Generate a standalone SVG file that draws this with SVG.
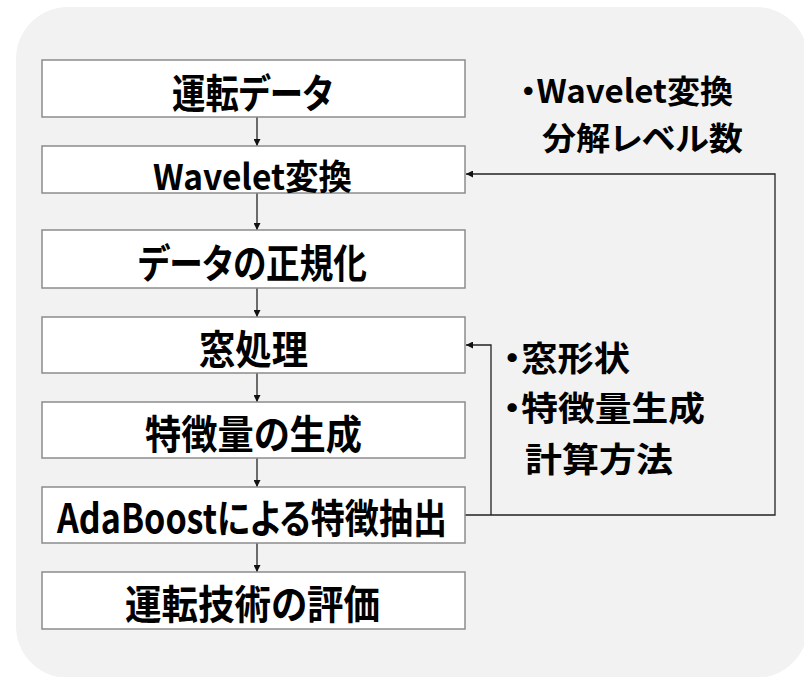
<svg xmlns="http://www.w3.org/2000/svg" width="804" height="677" viewBox="0 0 804 677">
<style>
.bg{fill:#f2f2f2}
.box{fill:#ffffff;stroke:#8c8c8c;stroke-width:1.5}
.t{font-family:"Noto Sans CJK JP","Liberation Sans",sans-serif;font-weight:bold;fill:#000;font-feature-settings:"palt"}
.c{fill:none;stroke:#222;stroke-width:1.3}
</style>
<defs>
<marker id="ah" viewBox="0 0 10 10" refX="10" refY="5" markerWidth="7" markerHeight="7" markerUnits="userSpaceOnUse" orient="auto">
<path d="M0,0 L10,5 L0,10 z" fill="#111"/>
</marker>
</defs>
<rect class="bg" x="16" y="7" width="792" height="671" rx="52" ry="52"/>
<g id="connectors">
<line class="c" x1="257" y1="117" x2="257" y2="146" marker-end="url(#ah)"/>
<line class="c" x1="257" y1="193" x2="257" y2="230" marker-end="url(#ah)"/>
<line class="c" x1="257" y1="288" x2="257" y2="317" marker-end="url(#ah)"/>
<line class="c" x1="257" y1="373" x2="257" y2="402" marker-end="url(#ah)"/>
<line class="c" x1="257" y1="458" x2="257" y2="487" marker-end="url(#ah)"/>
<line class="c" x1="257" y1="543" x2="257" y2="572" marker-end="url(#ah)"/>
<polyline class="c" points="465,515 775,515 775,174 466,174" marker-end="url(#ah)"/>
<polyline class="c" points="491,515 491,345 466,345" marker-end="url(#ah)"/>
</g>
<g id="n1"><rect class="box" x="42" y="60" width="423" height="57"/><text class="t" x="172" y="108" font-size="40" textLength="161" lengthAdjust="spacingAndGlyphs">運転データ</text></g>
<g id="n2"><rect class="box" x="42" y="146" width="423" height="47"/><text class="t" x="153" y="190" font-size="35" textLength="199" lengthAdjust="spacingAndGlyphs">Wavelet変換</text></g>
<g id="n3"><rect class="box" x="42" y="230" width="423" height="58"/><text class="t" x="138" y="278" font-size="40" textLength="229" lengthAdjust="spacingAndGlyphs">データの正規化</text></g>
<g id="n4"><rect class="box" x="42" y="317" width="423" height="56"/><text class="t" x="199" y="364" font-size="40" textLength="109" lengthAdjust="spacingAndGlyphs">窓処理</text></g>
<g id="n5"><rect class="box" x="42" y="402" width="423" height="56"/><text class="t" x="145" y="449" font-size="40" textLength="217" lengthAdjust="spacingAndGlyphs">特徴量の生成</text></g>
<g id="n6"><rect class="box" x="42" y="487" width="423" height="56"/><text class="t" x="57" y="533" font-size="40" textLength="390" lengthAdjust="spacingAndGlyphs">AdaBoostによる特徴抽出</text></g>
<g id="n7"><rect class="box" x="42" y="572" width="423" height="57"/><text class="t" x="125" y="619" font-size="40" textLength="255" lengthAdjust="spacingAndGlyphs">運転技術の評価</text></g>
<g id="note1">
<text class="t" x="520" y="103" font-size="32" textLength="213" lengthAdjust="spacingAndGlyphs">・Wavelet変換</text>
<text class="t" x="542" y="150" font-size="32" textLength="201" lengthAdjust="spacingAndGlyphs">分解レベル数</text>
</g>
<g id="note2">
<text class="t" x="503" y="371" font-size="34" textLength="127" lengthAdjust="spacingAndGlyphs">・窓形状</text>
<text class="t" x="503" y="421" font-size="34" textLength="202" lengthAdjust="spacingAndGlyphs">・特徴量生成</text>
<text class="t" x="525" y="472" font-size="34" textLength="148" lengthAdjust="spacingAndGlyphs">計算方法</text>
</g>
</svg>
